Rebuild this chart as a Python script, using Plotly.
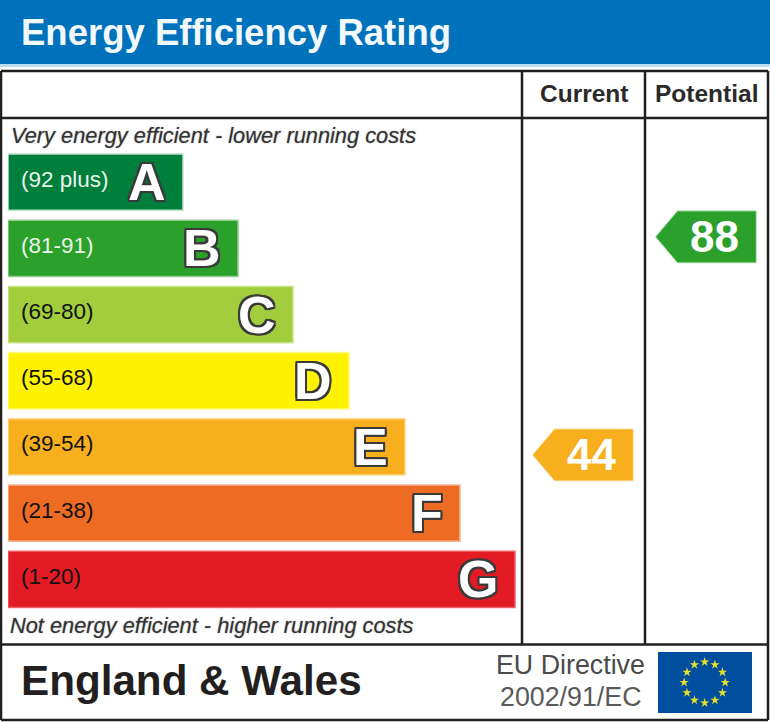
import plotly.graph_objects as go

W, H = 770, 722

# rating bands, longest bar at the bottom
band_letters = ["A", "B", "C", "D", "E", "F", "G"]
band_ranges = ["(92 plus)", "(81-91)", "(69-80)", "(55-68)", "(39-54)", "(21-38)", "(1-20)"]
band_lengths = [175, 230, 285, 341, 397, 452, 507]
band_colors = ["#007E3C", "#2BA02B", "#A2CD3C", "#FFF200", "#F8AF1E", "#EE6B24", "#E31B25"]
band_edges = ["#BFE0CE", "#8FCB8F", "#C7E289", "#FFF97F", "#FCD88F", "#F7B592", "#EE6068"]
range_colors = ["#E8F5EC", "#E8F5E8", "#111111", "#111111", "#111111", "#111111", "#111111"]

# current / potential scores
score_names = ["Current", "Potential"]
score_values = [44, 88]
score_colors = ["#F8AF1E", "#2BA02B"]
score_edges = ["#FDE5B5", "#BFE3BF"]

star_clock = [0, 30, 60, 90, 120, 150, 180, 210, 240, 270, 300, 330]

LINE = "#231F20"
SOFT = "0 0 1.5px rgba(60,60,60,0.55)"
OUTLINE = ("-2px -2px 0 #3A3A3A, 2px -2px 0 #3A3A3A, -2px 2px 0 #3A3A3A, 2px 2px 0 #3A3A3A, "
           "0 -2px 0 #3A3A3A, 0 2px 0 #3A3A3A, -2px 0 0 #3A3A3A, 2px 0 0 #3A3A3A")


def px(x):
    return x / W


def py(y):
    return 1 - y / H


def rect(x0, y0, x1, y1, fill):
    return dict(type="rect", xref="paper", yref="paper", x0=px(x0), x1=px(x1), y0=py(y0), y1=py(y1),
                fillcolor=fill, line_width=0, layer="below")


def line(x0, y0, x1, y1):
    return dict(type="line", xref="paper", yref="paper", x0=px(x0), x1=px(x1), y0=py(y0), y1=py(y1),
                line=dict(color=LINE, width=2.5), layer="below")


def label(text, x, y, size, color, anchor="left", bold=False, italic=False, shadow=None):
    return dict(text=text, xref="paper", yref="paper", x=px(x), y=py(y), showarrow=False,
                xanchor=anchor, yanchor="middle",
                font=dict(family="Liberation Sans", size=size, color=color,
                          weight="bold" if bold else "normal",
                          style="italic" if italic else "normal",
                          shadow=shadow or "none"))


fig = go.Figure()

fig.add_trace(go.Bar(
    y=band_letters, x=band_lengths, orientation="h", width=0.85,
    marker=dict(color=band_colors, line=dict(color=band_edges, width=1.5)),
    hoverinfo="skip", showlegend=False,
))

# score arrows sit on their own axes: column index across, rating up
for i, (value, color, edge) in enumerate(zip(score_values, score_colors, score_edges)):
    half = 5.25
    fig.add_trace(go.Scatter(
        x=[i - 0.415, i - 0.236, i + 0.405, i + 0.405, i - 0.236, i - 0.415],
        y=[value, value + half, value + half, value - half, value - half, value],
        fill="toself", fillcolor=color, mode="lines", line=dict(color=edge, width=1),
        xaxis="x2", yaxis="y2", hoverinfo="skip", showlegend=False,
    ))

fig.add_trace(go.Scatterpolar(
    r=[1] * len(star_clock), theta=star_clock, mode="markers",
    marker=dict(symbol="star", size=7, color="#E8DF2A"),
    subplot="polar", hoverinfo="skip", showlegend=False,
))

annotations = [
    label("Energy Efficiency Rating", 18.5, 32, 36.5, "#F2F8FC", bold=True),
    label("Very energy efficient - lower running costs", 9, 135, 21.8, "#333333", italic=True, shadow=SOFT),
    label("Not energy efficient - higher running costs", 8, 625, 21.8, "#333333", italic=True, shadow=SOFT),
    label("England &amp; Wales", 18.5, 680, 42.2, "#231F20", bold=True),
    label("EU Directive", 647, 665, 26.8, "#4A4A4A", anchor="right"),
    label("2002/91/EC", 644, 697, 26.8, "#5A5A5A", anchor="right"),
]

for letter, rng, length, color in zip(band_letters, band_ranges, band_lengths, range_colors):
    annotations.append(dict(text=rng, x=0, y=letter, xref="x", yref="y", showarrow=False,
                            xanchor="left", xshift=11, yshift=3,
                            font=dict(family="Liberation Sans", size=22.5, color=color)))
    annotations.append(dict(text=letter, x=length, y=letter, xref="x", yref="y", showarrow=False,
                            xanchor="right", xshift=-15,
                            font=dict(family="Liberation Sans", size=52, color="white", weight="bold",
                                      shadow=OUTLINE)))

for i, (name, value) in enumerate(zip(score_names, score_values)):
    annotations.append(dict(text=name, x=i, y=py(94), xref="x2", yref="paper", showarrow=False,
                            yanchor="middle",
                            font=dict(family="Liberation Sans", size=24.5, color="#2A2A2A", weight="bold")))
    annotations.append(dict(text=str(value), x=i, y=value, xref="x2", yref="y2", showarrow=False,
                            xshift=8,
                            font=dict(family="Liberation Sans", size=44, color="white", weight="bold")))

fig.update_layout(
    width=W, height=H,
    margin=dict(l=0, r=0, t=0, b=0),
    paper_bgcolor="white", plot_bgcolor="rgba(0,0,0,0)",
    bargap=0.14,
    xaxis=dict(domain=[px(8), 1], range=[0, W - 8], visible=False, fixedrange=True),
    yaxis=dict(domain=[py(612.5), py(149)], type="category", autorange="reversed",
               visible=False, fixedrange=True),
    xaxis2=dict(domain=[px(522), px(768)], range=[-0.5, 1.5], visible=False, anchor="y2", fixedrange=True),
    yaxis2=dict(domain=[0, 1], range=[-9.9, 135.8], visible=False, anchor="x2", fixedrange=True),
    polar=dict(domain=dict(x=[px(704.7 - 20.5), px(704.7 + 20.5)], y=[py(682.5 + 20.5), py(682.5 - 20.5)]),
               bgcolor="rgba(0,0,0,0)",
               radialaxis=dict(range=[0, 1], visible=False),
               angularaxis=dict(rotation=90, direction="clockwise", visible=False)),
    shapes=[
        rect(0, 0, 770, 64, "#0072BC"),
        rect(0, 64, 770, 67, "#BCDCF2"),
        rect(658, 652, 752, 713, "#004F9F"),
        line(1, 71, 768, 71),
        line(1, 118, 768, 118),
        line(1, 644.5, 768, 644.5),
        line(1, 720, 768, 720),
        line(1, 71, 1, 720),
        line(768, 71, 768, 720),
        line(522, 71, 522, 644.5),
        line(645, 71, 645, 644.5),
    ],
    annotations=annotations,
)

fig.write_html("out.html", config=dict(displayModeBar=False),
               post_script="document.body.style.margin='0';document.body.style.overflow='hidden';")
